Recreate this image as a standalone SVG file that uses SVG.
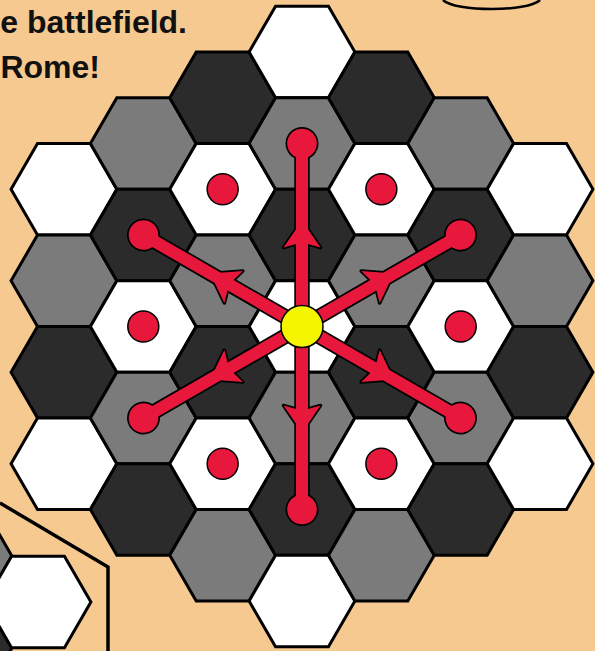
<svg xmlns="http://www.w3.org/2000/svg" xmlns:xlink="http://www.w3.org/1999/xlink" width="595" height="651" viewBox="0 0 595 651">
<style>
.hx{stroke:#000;stroke-width:3;stroke-linejoin:miter}
.w{fill:#ffffff}.g{fill:#7b7b7b}.d{fill:#2b2b2b}
.dot{fill:#e8183c;stroke:#000;stroke-width:1.5}
.txt{font-family:"Liberation Sans",Arial,sans-serif;font-weight:bold;font-size:32px;fill:#111}
</style>
<defs>
<path id="hex" d="M52.9,0 L26.45,45.75 L-26.45,45.75 L-52.9,0 L-26.45,-45.75 L26.45,-45.75 Z"/>
<polygon id="ah" points="106,0 79,18.5 82.5,6 82.5,-6 79,-18.5"/>
<g id="rayO">
<line x1="0" y1="0" x2="183" y2="0" stroke="#000" stroke-width="15.5"/>
<use xlink:href="#ah" fill="#000" stroke="#000" stroke-width="3.5" stroke-linejoin="round"/>
<circle cx="183" cy="0" r="16.5" fill="#000"/>
</g>
<g id="rayF">
<line x1="0" y1="0" x2="183" y2="0" stroke="#e8183c" stroke-width="12"/>
<use xlink:href="#ah" fill="#e8183c"/>
<circle cx="183" cy="0" r="14.8" fill="#e8183c"/>
</g>
</defs>
<rect x="0" y="0" width="595" height="651" fill="#f6c990"/>
<text class="txt" x="187" y="33" text-anchor="end">e battlefield.</text>
<text class="txt" x="100" y="78" text-anchor="end">Rome!</text>
<path d="M443,0 C455,12 528,12 540,0" fill="none" stroke="#000" stroke-width="2.5"/>
<g id="side-panel">
<polyline points="0,503 108,567 108,651" fill="none" stroke="#000" stroke-width="3.5"/>
<use xlink:href="#hex" class="hx g" x="-41" y="556"/>
<use xlink:href="#hex" class="hx d" x="-41" y="648"/>
<use xlink:href="#hex" class="hx w" x="38" y="602"/>
</g>
<g id="board">
<g id="h-3a"><use xlink:href="#hex" class="hx w" x="63.95" y="189.25"/></g>
<g id="h-3b"><use xlink:href="#hex" class="hx g" x="63.95" y="280.75"/></g>
<g id="h-3c"><use xlink:href="#hex" class="hx d" x="63.95" y="372.25"/></g>
<g id="h-3d"><use xlink:href="#hex" class="hx w" x="63.95" y="463.75"/></g>
<g id="h-2a"><use xlink:href="#hex" class="hx g" x="143.3" y="143.5"/></g>
<g id="h-2b"><use xlink:href="#hex" class="hx d" x="143.3" y="235"/></g>
<g id="h-2c"><use xlink:href="#hex" class="hx w" x="143.3" y="326.5"/></g>
<g id="h-2d"><use xlink:href="#hex" class="hx g" x="143.3" y="418"/></g>
<g id="h-2e"><use xlink:href="#hex" class="hx d" x="143.3" y="509.5"/></g>
<g id="h-1a"><use xlink:href="#hex" class="hx d" x="222.65" y="97.75"/></g>
<g id="h-1b"><use xlink:href="#hex" class="hx w" x="222.65" y="189.25"/></g>
<g id="h-1c"><use xlink:href="#hex" class="hx g" x="222.65" y="280.75"/></g>
<g id="h-1d"><use xlink:href="#hex" class="hx d" x="222.65" y="372.25"/></g>
<g id="h-1e"><use xlink:href="#hex" class="hx w" x="222.65" y="463.75"/></g>
<g id="h-1f"><use xlink:href="#hex" class="hx g" x="222.65" y="555.25"/></g>
<g id="h0a"><use xlink:href="#hex" class="hx w" x="302" y="52"/></g>
<g id="h0b"><use xlink:href="#hex" class="hx g" x="302" y="143.5"/></g>
<g id="h0c"><use xlink:href="#hex" class="hx d" x="302" y="235"/></g>
<g id="h0d"><use xlink:href="#hex" class="hx w" x="302" y="326.5"/></g>
<g id="h0e"><use xlink:href="#hex" class="hx g" x="302" y="418"/></g>
<g id="h0f"><use xlink:href="#hex" class="hx d" x="302" y="509.5"/></g>
<g id="h0g"><use xlink:href="#hex" class="hx w" x="302" y="601"/></g>
<g id="h1a"><use xlink:href="#hex" class="hx d" x="381.35" y="97.75"/></g>
<g id="h1b"><use xlink:href="#hex" class="hx w" x="381.35" y="189.25"/></g>
<g id="h1c"><use xlink:href="#hex" class="hx g" x="381.35" y="280.75"/></g>
<g id="h1d"><use xlink:href="#hex" class="hx d" x="381.35" y="372.25"/></g>
<g id="h1e"><use xlink:href="#hex" class="hx w" x="381.35" y="463.75"/></g>
<g id="h1f"><use xlink:href="#hex" class="hx g" x="381.35" y="555.25"/></g>
<g id="h2a"><use xlink:href="#hex" class="hx g" x="460.7" y="143.5"/></g>
<g id="h2b"><use xlink:href="#hex" class="hx d" x="460.7" y="235"/></g>
<g id="h2c"><use xlink:href="#hex" class="hx w" x="460.7" y="326.5"/></g>
<g id="h2d"><use xlink:href="#hex" class="hx g" x="460.7" y="418"/></g>
<g id="h2e"><use xlink:href="#hex" class="hx d" x="460.7" y="509.5"/></g>
<g id="h3a"><use xlink:href="#hex" class="hx w" x="540.05" y="189.25"/></g>
<g id="h3b"><use xlink:href="#hex" class="hx g" x="540.05" y="280.75"/></g>
<g id="h3c"><use xlink:href="#hex" class="hx d" x="540.05" y="372.25"/></g>
<g id="h3d"><use xlink:href="#hex" class="hx w" x="540.05" y="463.75"/></g>
</g>
<g id="markers">
<circle id="dot1" class="dot" cx="222.65" cy="189.25" r="15.5"/>
<circle id="dot2" class="dot" cx="381.35" cy="189.25" r="15.5"/>
<circle id="dot3" class="dot" cx="143.3" cy="326.5" r="15.5"/>
<circle id="dot4" class="dot" cx="460.7" cy="326.5" r="15.5"/>
<circle id="dot5" class="dot" cx="222.65" cy="463.75" r="15.5"/>
<circle id="dot6" class="dot" cx="381.35" cy="463.75" r="15.5"/>
</g>
<g id="connectors">
<g id="outlines">
<use xlink:href="#rayO" transform="translate(302,326.5) rotate(-90)"/>
<use xlink:href="#rayO" transform="translate(302,326.5) rotate(-30)"/>
<use xlink:href="#rayO" transform="translate(302,326.5) rotate(30)"/>
<use xlink:href="#rayO" transform="translate(302,326.5) rotate(90)"/>
<use xlink:href="#rayO" transform="translate(302,326.5) rotate(150)"/>
<use xlink:href="#rayO" transform="translate(302,326.5) rotate(210)"/>
</g>
<g id="fills">
<use xlink:href="#rayF" transform="translate(302,326.5) rotate(-90)"/>
<use xlink:href="#rayF" transform="translate(302,326.5) rotate(-30)"/>
<use xlink:href="#rayF" transform="translate(302,326.5) rotate(30)"/>
<use xlink:href="#rayF" transform="translate(302,326.5) rotate(90)"/>
<use xlink:href="#rayF" transform="translate(302,326.5) rotate(150)"/>
<use xlink:href="#rayF" transform="translate(302,326.5) rotate(210)"/>
</g>
</g>
<g id="origin">
<circle cx="302" cy="326.5" r="21" fill="#f5f500" stroke="#000" stroke-width="1.5"/>
</g>
</svg>
